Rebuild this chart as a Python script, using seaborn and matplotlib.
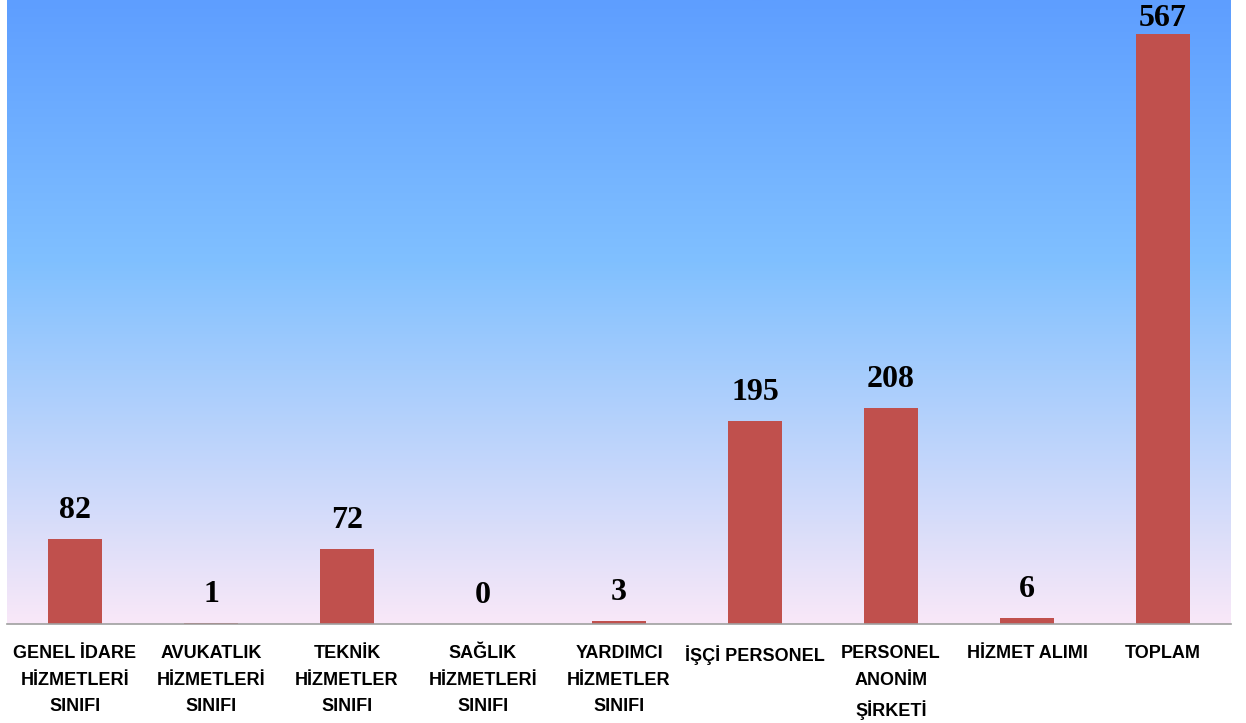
import numpy as np
import pandas as pd
import matplotlib.pyplot as plt
from matplotlib.colors import LinearSegmentedColormap
import seaborn as sns

kategoriler = ["GENEL İDARE\nHİZMETLERİ\nSINIFI", "AVUKATLIK\nHİZMETLERİ\nSINIFI",
               "TEKNİK\nHİZMETLER\nSINIFI", "SAĞLIK\nHİZMETLERİ\nSINIFI",
               "YARDIMCI\nHİZMETLER\nSINIFI", "İŞÇİ PERSONEL",
               "PERSONEL\nANONİM\nŞİRKETİ", "HİZMET ALIMI", "TOPLAM"]
sayilar = [82, 1, 72, 0, 3, 195, 208, 6, 567]

df = pd.DataFrame({"Kategori": kategoriler, "Sayi": sayilar})

sns.set_style("white")

fig = plt.figure(figsize=(12.46, 7.23), dpi=100)
ax = fig.add_axes([7 / 1246, 99 / 723, 1224 / 1246, 624 / 723])

# arka plan gradyanı (üst mavi -> alt pembe)
renkler = [(0.0, "#f9e8f8"), (0.58, "#80c0ff"), (1.0, "#5e9eff")]
cmap = LinearSegmentedColormap.from_list("arka", renkler)
grad = np.linspace(0, 1, 256).reshape(-1, 1)
ax.imshow(grad, extent=[0, 1, 0, 1], transform=ax.transAxes, origin="lower",
          aspect="auto", cmap=cmap, zorder=0)

sns.barplot(data=df, x="Kategori", y="Sayi", color="#c0504d", saturation=1,
            width=0.4, linewidth=0, ax=ax, zorder=2)

for i, v in enumerate(sayilar):
    # en yüksek çubuğun etiketi kenara sığsın diye biraz aşağıda
    ofset = 1 if v == max(sayilar) else 10
    ax.annotate(str(v), (i, v), xytext=(0, ofset), textcoords="offset points",
                ha="center", va="bottom", fontsize=23, fontweight="bold",
                family="Liberation Serif", color="black", zorder=3,
                annotation_clip=False)

ax.set_xlim(-0.5, len(kategoriler) - 0.5)
ax.set_ylim(0, 600)
ax.set_xlabel("")
ax.set_ylabel("")
ax.set_yticks([])
ax.tick_params(axis="x", length=0, pad=15)
for lbl in ax.get_xticklabels():
    lbl.set_fontfamily("Liberation Sans")
    lbl.set_fontweight("bold")
    lbl.set_fontsize(13)
    lbl.set_color("black")
    lbl.set_linespacing(1.75)
    lbl.set_verticalalignment("top")

for s in ["top", "right", "left"]:
    ax.spines[s].set_visible(False)
ax.spines["bottom"].set_color("#a0a0a0")
ax.spines["bottom"].set_linewidth(1.2)
ax.spines["bottom"].set_zorder(4)

fig.savefig("out.png", dpi=100)
